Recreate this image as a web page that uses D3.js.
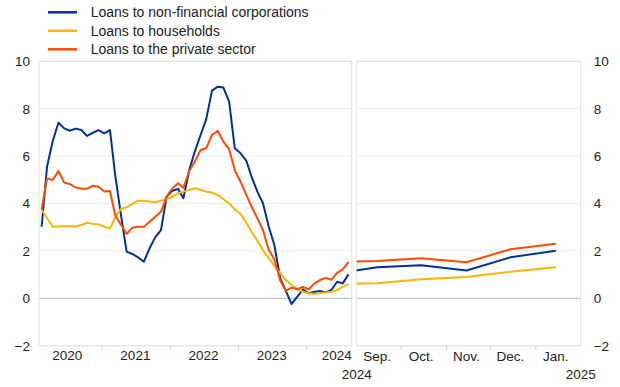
<!DOCTYPE html>
<html><head><meta charset="utf-8">
<script src="https://cdn.jsdelivr.net/npm/d3@7"></script>
<style>
body{margin:0;background:#fff}
text{font-family:Arial,"Liberation Sans",sans-serif;fill:#222}
</style>
</head><body>
<svg id="c" width="620" height="387"></svg>
<script>
// ---- data (monthly, Feb 2020 - Jan 2025) ----
const months = [
 "2020-02","2020-03","2020-04","2020-05","2020-06","2020-07","2020-08","2020-09","2020-10","2020-11","2020-12",
 "2021-01","2021-02","2021-03","2021-04","2021-05","2021-06","2021-07","2021-08","2021-09","2021-10","2021-11","2021-12",
 "2022-01","2022-02","2022-03","2022-04","2022-05","2022-06","2022-07","2022-08","2022-09","2022-10","2022-11","2022-12",
 "2023-01","2023-02","2023-03","2023-04","2023-05","2023-06","2023-07","2023-08","2023-09","2023-10","2023-11","2023-12",
 "2024-01","2024-02","2024-03","2024-04","2024-05","2024-06","2024-07","2024-08","2024-09","2024-10","2024-11","2024-12",
 "2025-01"];
const seriesNames = ["Loans to non-financial corporations","Loans to households","Loans to the private sector"];
const seriesColors = ["#003299","#ffb400","#ff4b00"];
const nfc = [3.02,5.55,6.65,7.41,7.17,7.07,7.16,7.10,6.85,6.98,7.10,
 6.96,7.10,5.2,3.5,1.97,1.87,1.73,1.54,2.11,2.57,2.88,4.29,
 4.54,4.61,4.22,5.4,6.19,6.89,7.55,8.76,8.93,8.89,8.30,6.33,
 6.12,5.80,5.13,4.50,4.01,3.02,2.25,0.85,0.30,-0.24,0.07,0.38,
 0.21,0.28,0.31,0.25,0.35,0.70,0.63,1.01,1.31,1.39,1.17,1.73,
 2.01];
const hh = [3.75,3.38,3.02,3.03,3.04,3.04,3.03,3.09,3.19,3.14,3.12,
 3.02,2.95,3.4,3.78,3.84,3.98,4.12,4.12,4.08,4.05,4.12,4.18,
 4.29,4.43,4.50,4.57,4.64,4.58,4.50,4.46,4.36,4.18,4.01,3.75,
 3.56,3.19,2.81,2.43,2.04,1.69,1.38,1.05,0.77,0.56,0.39,0.28,
 0.21,0.18,0.21,0.25,0.28,0.35,0.48,0.60,0.63,0.80,0.90,1.12,
 1.31];
const ps = [3.75,5.06,4.99,5.37,4.88,4.82,4.68,4.62,4.62,4.75,4.71,
 4.51,4.53,3.5,3.1,2.72,2.98,3.02,3.02,3.23,3.44,3.65,4.29,
 4.64,4.85,4.66,5.36,5.76,6.26,6.33,6.89,7.07,6.61,6.29,5.41,
 4.92,4.36,3.86,3.38,2.88,2.04,1.65,0.75,0.32,0.45,0.38,0.48,
 0.38,0.63,0.77,0.86,0.78,1.07,1.22,1.54,1.57,1.69,1.52,2.07,
 2.30];
const yTicks = [-2,0,2,4,6,8,10];
const yearLabels = ["2020","2021","2022","2023","2024"];
const monthLabels = ["Sep.","Oct.","Nov.","Dec.","Jan."];
const monthLabelKeys = ["2024-09","2024-10","2024-11","2024-12","2025-01"];
const periodLabels = ["2024","2025"];
const splitMonth = "2024-08"; // last month of left panel, first (clipped) of right panel

// ---- helpers ----
const parseMonth = s => { const [yy,mm] = s.split("-").map(Number); return new Date(Date.UTC(yy, mm-1, 15)); };
const dates = months.map(parseMonth);
const allSeries = [nfc, hh, ps];

const svg = d3.select("#c");
const y = d3.scaleLinear().domain([-2,10]).range([345.7, 61.3]);
const xL = d3.scaleUtc().domain([new Date(Date.UTC(2020,1,1)), new Date(Date.UTC(2024,8,1))]).range([39, 351.7]);
const xR = d3.scaleUtc().domain([new Date(Date.UTC(2024,8,1)), new Date(Date.UTC(2025,1,1))]).range([356.7, 580.7]);

const defs = svg.append("defs");
function panel(x, id, idxFrom, idxTo) {
  const [x0, x1] = x.range();
  const [y0, y1] = [y.range()[1], y.range()[0]];
  defs.append("clipPath").attr("id", id).append("rect")
    .attr("x", x0).attr("y", y0).attr("width", x1 - x0).attr("height", y1 - y0);
  const g = svg.append("g");
  g.selectAll("line.grid").data(yTicks.filter(t => t !== 0)).join("line")
    .attr("x1", x0).attr("x2", x1).attr("y1", d => y(d)).attr("y2", d => y(d))
    .attr("stroke", "#ececec").attr("stroke-width", 1);
  g.append("line").attr("x1", x0).attr("x2", x1).attr("y1", y(0)).attr("y2", y(0))
    .attr("stroke", "#b3b3b3").attr("stroke-width", 1);
  g.append("rect").attr("x", x0).attr("y", y0).attr("width", x1 - x0).attr("height", y1 - y0)
    .attr("fill", "none").attr("stroke", "#e2e2e2").attr("stroke-width", 1);
  const lg = g.append("g").attr("clip-path", `url(#${id})`);
  const line = d3.line().x(i => x(dates[i])).y((i, k, arr) => 0);
  allSeries.forEach((s, si) => {
    const idx = d3.range(idxFrom, idxTo + 1);
    lg.append("path")
      .attr("d", d3.line().x(i => x(dates[i])).y(i => y(s[i]))(idx))
      .attr("fill", "none").attr("stroke", seriesColors[si]).attr("stroke-width", 2)
      .attr("stroke-linejoin", "round");
  });
  return g;
}
const split = months.indexOf(splitMonth);
panel(xL, "clipL", 0, split);
panel(xR, "clipR", split, months.length - 1);

// y axes
const yl = svg.append("g").attr("transform", "translate(39,0)")
  .call(d3.axisLeft(y).tickValues(yTicks).tickSize(0).tickPadding(9).tickFormat(d3.format("d")));
const yr = svg.append("g").attr("transform", "translate(580.7,0)")
  .call(d3.axisRight(y).tickValues(yTicks).tickSize(0).tickPadding(13).tickFormat(d3.format("d")));
[yl, yr].forEach(g => { g.select(".domain").remove(); g.selectAll("text").attr("font-size", 13.5).attr("fill", "#222").attr("font-family", "Arial, 'Liberation Sans', sans-serif"); });

// x tick marks (period boundaries)
const base = y.range()[0];
const yearBounds = d3.utcYear.range(xL.domain()[0], xL.domain()[1]).filter(d => xL(d) > xL.range()[0] + 1);
svg.append("g").attr("transform", `translate(0,${base})`)
  .call(d3.axisBottom(xL).tickValues(yearBounds).tickSize(4).tickFormat(""))
  .call(g => g.select(".domain").remove())
  .selectAll("line").attr("stroke", "#d0d0d0");
const monthBounds = d3.utcMonth.range(xR.domain()[0], xR.domain()[1]).filter(d => xR(d) > xR.range()[0] + 1);
svg.append("g").attr("transform", `translate(0,${base})`)
  .call(d3.axisBottom(xR).tickValues(monthBounds).tickSize(4).tickFormat(""))
  .call(g => g.select(".domain").remove())
  .selectAll("line").attr("stroke", "#d0d0d0");

// x labels
const labelY = 360;
const yl2 = svg.append("g");
yearLabels.forEach(lab => {
  const d = new Date(Date.UTC(+lab, 6, 1));
  const t = yl2.append("text").attr("x", xL(d)).attr("y", labelY).attr("text-anchor", "middle")
    .attr("font-size", 13.5).text(lab);
  const w = t.node().getComputedTextLength();
  if (xL(d) + w / 2 > xL.range()[1]) t.attr("x", xL.range()[1] - w / 2);
});
monthLabels.forEach((lab, i) => {
  svg.append("text").attr("x", xR(parseMonth(monthLabelKeys[i]))).attr("y", labelY + 1)
    .attr("text-anchor", "middle").attr("font-size", 13.5).text(lab);
});
svg.append("text").attr("x", xR.range()[0]).attr("y", 379).attr("text-anchor", "middle")
  .attr("font-size", 13.5).text(periodLabels[0]);
svg.append("text").attr("x", xR.range()[1]).attr("y", 379).attr("text-anchor", "middle")
  .attr("font-size", 13.5).text(periodLabels[1]);

// legend
const leg = svg.append("g");
seriesNames.forEach((name, i) => {
  const by = 17.3 + i * 18.5;
  leg.append("line").attr("x1", 48).attr("x2", 77).attr("y1", by - 5).attr("y2", by - 5)
    .attr("stroke", seriesColors[i]).attr("stroke-width", 2.5);
  leg.append("text").attr("x", 90.7).attr("y", by).attr("font-size", 14).text(name);
});
</script>
</body></html>
